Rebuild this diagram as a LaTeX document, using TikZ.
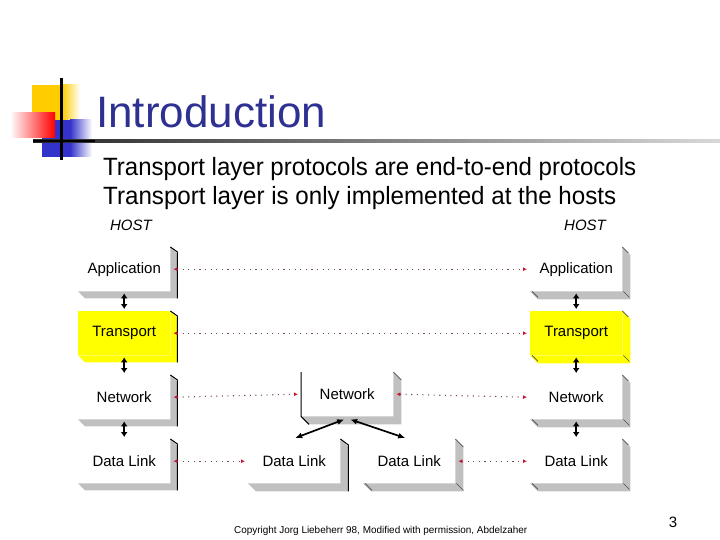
\documentclass[tikz,border=0pt]{standalone}
\usepackage{fontspec}
\setmainfont{Liberation Sans}
\usetikzlibrary{calc,arrows.meta}
\definecolor{titleblue}{RGB}{46,49,146}
\definecolor{bevelgray}{RGB}{192,192,192}
\definecolor{peerline}{RGB}{110,70,80}
\definecolor{peertip}{RGB}{200,20,50}
\definecolor{layeryellow}{RGB}{255,255,0}
\definecolor{logoyellow}{RGB}{255,204,0}
\definecolor{logoblue}{RGB}{51,51,204}
\definecolor{logored}{RGB}{255,0,0}
\newcommand\bevelof[3]{%
  \fill[#2] (#1.north east) -- ++(#3,#3) -- ($(#1.south east)+(#3,#3)$)
    -- ($(#1.south west)+(#3,#3)$) -- (#1.south west) -- (#1.south east) -- cycle;}
\tikzset{
  face/.style={minimum width=92pt, minimum height=44pt, inner sep=0pt,
    anchor=north west, font=\fontsize{15}{17}\selectfont, fill=white},
  yface/.style={face, fill=layeryellow},
  darkedge/.style={black, line width=1pt},
  tick/.style={black!70, line width=0.6pt},
  updown/.style={{Latex[length=5pt,width=7pt]}-{Latex[length=5pt,width=7pt]}, line width=1.8pt},
  fanout/.style={{Latex[length=7pt,width=6pt]}-{Latex[length=7pt,width=6pt]}, line width=1.7pt},
  peer/.style={peerline, line width=1.1pt, dash pattern=on 1.1pt off 4.5pt,
    {Latex[length=4pt,width=4pt,color=peertip]}-{Latex[length=4pt,width=4pt,color=peertip]}},
  txt/.style={inner sep=0pt}
}
\begin{document}
\begin{tikzpicture}[x=1pt,y=-1pt]
\useasboundingbox (0,0) rectangle (720,540);
% ---- logo ----
\fill[logoyellow] (32,85) rectangle (62,120);
\shade[left color=logoyellow, right color=white] (62,85) rectangle (80,120);
\fill[logoblue] (42,120) rectangle (70,157);
\shade[left color=logoblue, right color=white] (70,120) rectangle (92,157);
\shade[left color=white, right color=logored] (10,113) rectangle (55,138);
\shade[left color=black!85, right color=black!15] (33,140) rectangle (720,142.5);
\fill[black] (33,140) rectangle (95,142.5);
\fill[black] (60,78) rectangle (62.5,160);
% ---- title and text ----
\node[txt, anchor=base west, text=titleblue, font=\fontsize{44}{48}\selectfont] (title) at (96,128) {Introduction};
\node[txt, anchor=base west] (line1) at (103,176) {\resizebox{533pt}{\height}{\fontsize{25}{30}\selectfont Transport layer protocols are end-to-end protocols}};
\node[txt, anchor=base west] (line2) at (103,205) {\resizebox{513pt}{\height}{\fontsize{25}{30}\selectfont Transport layer is only implemented at the hosts}};
\node[txt, anchor=base, font=\itshape\fontsize{15}{18}\selectfont] (hostL) at (131,230) {HOST};
\node[txt, anchor=base, font=\itshape\fontsize{15}{18}\selectfont] (hostR) at (585,230) {HOST};
% ---- left host ----
\node[face] (lApp) at (78,247) {Application};
\node[yface] (lTra) at (78,311) {Transport};
\node[face] (lNet) at (78,375) {Network};
\node[face] (lDL) at (78,439) {Data Link};
\bevelof{lApp}{bevelgray}{7}
\bevelof{lTra}{layeryellow}{7}
\bevelof{lNet}{bevelgray}{7}
\bevelof{lDL}{bevelgray}{7}
\foreach \n in {lApp,lTra,lNet,lDL}{
  \draw[darkedge] (\n.north east) -- ++(7,5) -- ($(\n.south east)+(7,7)$);
}
% ---- right host ----
\node[face] (rApp) at (530,247) {Application};
\node[yface] (rTra) at (530,311) {Transport};
\node[face] (rNet) at (530,375) {Network};
\node[face] (rDL) at (530,439) {Data Link};
\bevelof{rApp}{bevelgray}{8}
\bevelof{rTra}{layeryellow}{8}
\bevelof{rNet}{bevelgray}{8}
\bevelof{rDL}{bevelgray}{8}
\foreach \n in {rApp,rTra,rNet,rDL}{
  \draw[tick] ($(\n.south west)+(2,0)$) -- ++(6,6);
  \draw[tick] ($(\n.south east)+(1,0)$) -- ++(6,6);
  \draw[tick] (\n.north east) -- ++(6,6);
}
% ---- router ----
\node[face] (mNet) at (301,372) {Network};
\node[face] (mDL1) at (248,439) {Data Link};
\node[face] (mDL2) at (363,439) {Data Link};
\bevelof{mNet}{bevelgray}{8}
\bevelof{mDL1}{bevelgray}{8}
\bevelof{mDL2}{bevelgray}{8}
\draw[darkedge] (mNet.north west) -- (mNet.south west) -- ++(8,8);
\draw[tick] (mNet.north east) -- ++(8,8);
\draw[darkedge] (mDL1.north east) -- ++(8,6) -- ($(mDL1.south east)+(8,8)$);
\draw[tick] (mDL2.north east) -- ++(8,8);
\draw[tick] ($(mDL2.south west)+(2,0)$) -- ++(7,7);
\draw[tick] ($(mDL2.south east)+(1,0)$) -- ++(7,7);
% ---- vertical arrows ----
\draw[updown] ($(lApp.south)+(0,2)$) -- ($(lTra.north)+(0,-2)$);
\draw[updown] ($(lTra.south)+(0,2)$) -- ($(lNet.north)+(0,-2)$);
\draw[updown] ($(lNet.south)+(0,2)$) -- ($(lDL.north)+(0,-2)$);
\draw[updown] ($(rApp.south)+(0,2)$) -- ($(rTra.north)+(0,-2)$);
\draw[updown] ($(rTra.south)+(0,2)$) -- ($(rNet.north)+(0,-2)$);
\draw[updown] ($(rNet.south)+(0,2)$) -- ($(rDL.north)+(0,-2)$);
\coordinate (mNetL) at ($(mNet.south)+(-3,3)$);
\coordinate (mNetR) at ($(mNet.south)+(3,3)$);
\draw[fanout] (mNetL) -- ($(mDL1.north)+(1,-1)$);
\draw[fanout] (mNetR) -- ($(mDL2.north)+(-4,-1)$);
% ---- peer dotted lines ----
\draw[peer] ($(lApp.east)+(3,0)$) -- ($(rApp.west)+(-3,0)$);
\draw[peer] ($(lTra.east)+(3,0)$) -- ($(rTra.west)+(-3,0)$);
\draw[peer] ($(lNet.east)+(3,0)$) -- ($(mNet.west)+(-3,0)$);
\draw[peer] ($(mNet.east)+(3,0)$) -- ($(rNet.west)+(-3,0)$);
\draw[peer] ($(lDL.east)+(3,0)$) -- ($(mDL1.west)+(-3,0)$);
\draw[peer] ($(mDL2.east)+(3,0)$) -- ($(rDL.west)+(-3,0)$);
% ---- footer ----
\node[txt, anchor=base west] (copy) at (234,533) {\resizebox{293pt}{\height}{\fontsize{10}{12}\selectfont Copyright Jorg Liebeherr 98, Modified with permission, Abdelzaher}};
\node[txt, anchor=base, font=\fontsize{15}{18}\selectfont] (page) at (673,527) {3};
\end{tikzpicture}
\end{document}
